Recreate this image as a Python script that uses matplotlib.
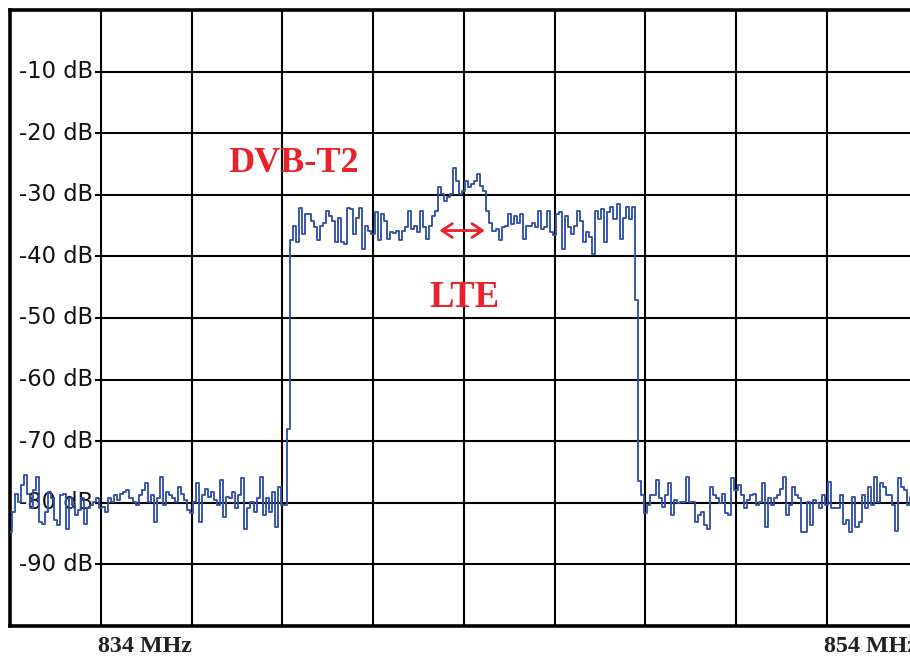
import numpy as np
import matplotlib
matplotlib.use("Agg")
import matplotlib.pyplot as plt

# ---- data ----
f_start, f_stop = 831.5, 856.5          # MHz (10 divisions of 2.5 MHz)
floor_left = [
    -84.7, -81.5, -78.5, -79.8, -77.1, -75.5, -78.5, -80.9, -77.9, -75.8,
    -83.1, -83.4, -81.5, -78.2, -79.3, -82.8, -83.6, -78.7, -78.5, -84.2,
    -79.3, -80.4, -82.0, -81.2, -79.3, -83.4, -80.9, -80.4, -79.8, -79.3,
    -80.9, -80.7, -81.5, -79.3, -79.8, -78.7, -79.6, -78.5, -78.2, -77.9,
    -79.3, -79.8, -80.4, -78.7, -77.9, -76.8, -79.8, -78.7, -83.1, -79.3,
    -75.8, -80.4, -78.2, -78.7, -79.3, -79.8, -77.4, -78.5, -79.6, -81.2,
    -81.7, -79.8, -76.8, -83.1, -78.7, -77.7, -79.0, -78.2, -79.6, -80.4,
    -76.3, -82.3, -79.0, -79.3, -78.2, -80.9, -78.7, -76.0, -84.2, -80.9,
    -79.8, -81.5, -79.3, -75.8, -82.0, -79.3, -81.5, -78.2, -83.9, -77.4,
    -80.4, -80.4,
]
rise_edge = [-68.0]
band = [
    -37.4, -35.0, -37.7, -32.1, -36.3, -33.1, -33.1, -34.2, -35.3, -37.4,
    -35.0, -34.5, -32.6, -33.4, -34.2, -37.7, -33.7, -37.7, -38.0, -32.1,
    -32.3, -36.3, -33.7, -32.1, -38.8, -35.0, -35.8, -36.3, -32.8, -37.4,
    -33.1, -34.2, -37.2, -36.1, -36.2, -35.8, -37.4, -35.8, -35.3, -32.6,
    -35.5, -35.0, -36.1, -32.6, -35.3, -37.2, -35.0, -33.4, -32.6, -28.8,
    -29.9, -31.0, -30.4, -29.9, -25.6, -27.7, -29.9, -29.4, -27.7, -28.8,
    -28.3, -27.7, -26.7, -28.5, -29.4, -32.6, -34.5, -35.8, -35.5, -37.4,
    -35.3, -35.0, -33.1, -34.7, -33.4, -34.5, -33.1, -37.2, -35.0, -35.0,
    -34.5, -35.3, -32.6, -35.5, -35.3, -32.6, -36.1, -36.6, -33.1, -32.8,
    -38.8, -33.4, -35.3, -36.3, -35.0, -32.6, -34.2, -37.7, -36.1, -36.9,
    -39.6, -32.6, -33.9, -32.3, -37.7, -32.8, -32.0, -33.9, -31.5, -37.2,
    -33.7, -32.0, -33.9, -32.0,
]
fall_edge = [-47.0, -76.5]
floor_right = [
    -78.7, -81.7, -80.4, -78.7, -78.7, -76.3, -79.3, -80.7, -78.7, -76.8,
    -82.0, -79.6, -80.1, -79.8, -79.8, -75.8, -79.8, -79.8, -83.1, -82.0,
    -81.5, -83.6, -84.2, -77.4, -78.7, -79.3, -80.1, -78.5, -81.7, -82.0,
    -76.0, -77.9, -77.1, -78.7, -80.9, -79.6, -78.7, -78.5, -80.4, -79.8,
    -76.8, -83.9, -79.3, -80.4, -79.3, -78.7, -77.7, -75.8, -82.0, -80.4,
    -77.4, -78.7, -79.3, -84.7, -84.7, -79.8, -83.6, -79.6, -80.1, -80.9,
    -78.7, -80.4, -76.6, -80.9, -80.9, -80.9, -78.7, -83.4, -82.8, -84.7,
    -79.0, -83.9, -83.1, -78.7, -80.9, -77.4, -80.4, -75.8, -79.8, -76.8,
    -77.4, -78.7, -78.7, -80.4, -84.5, -76.0, -77.4, -77.9, -80.4, -79.0,
    -81.0, -79.5,
]
level_db = np.array(floor_left + rise_edge + band + fall_edge + floor_right)
freq_mhz = np.linspace(f_start, f_stop, len(level_db))

db_ticks = [-10, -20, -30, -40, -50, -60, -70, -80, -90]
db_labels = ["-10 dB", "-20 dB", "-30 dB", "-40 dB", "-50 dB",
             "-60 dB", "-70 dB", "-80 dB", "-90 dB"]
freq_grid = [834 + 2.5 * k for k in range(10)]
freq_labels = {834: "834 MHz", 854: "854 MHz"}

# ---- figure ----
W, H = 910, 659
fig = plt.figure(figsize=(W / 100, H / 100), dpi=100)
ax_left, ax_top, ax_bot, ax_w = 10, 10, 626, 907.5
ax = fig.add_axes([ax_left / W, (H - ax_bot) / H, ax_w / W, (ax_bot - ax_top) / H])
ax.set_xlim(f_start, f_stop)
ax.set_ylim(-100, 0)
ax.set_xticks([])
ax.set_yticks([])
for side in ["left", "top", "bottom", "right"]:
    ax.spines[side].set_linewidth(2.6)
    ax.spines[side].set_color("black")

# grid
for f in freq_grid:
    ax.axvline(f, color="black", lw=1.5, zorder=1)
grid_x0 = 833.83
for d in db_ticks:
    ax.plot([grid_x0, f_stop], [d, d], color="black", lw=1.5, zorder=1,
            solid_capstyle="butt")

# y labels inside the plot
for d, lab in zip(db_ticks, db_labels):
    ax.text(833.78, d, lab, ha="right", va="center", fontsize=16.3,
            family="DejaVu Sans", color="#111111", zorder=2)

# trace
ax.plot(freq_mhz, level_db, drawstyle="steps-mid", color="#3352a6",
        lw=1.35, zorder=3)

# annotations
ax.text(839.32, -24.9, "DVB-T2", ha="center", va="center", fontsize=26,
        family="Liberation Serif", fontweight="bold", color="#e8212b", zorder=4)
ax.text(844.03, -46.6, "LTE", ha="center", va="center", fontsize=26.5,
        family="Liberation Serif", fontweight="bold", color="#e8212b", zorder=4)
ax.annotate("", xy=(844.58, -35.8), xytext=(843.33, -35.8),
            arrowprops=dict(arrowstyle="<->,head_length=0.75,head_width=0.5",
                            color="#e8212b", lw=2.0, shrinkA=0, shrinkB=0),
            zorder=4)

# x labels under the plot
trans = ax.get_xaxis_transform()
for f, lab in freq_labels.items():
    ax.text(f - 0.08, -0.034, lab, transform=trans, ha="left", va="center",
            fontsize=17.3, family="Liberation Serif", fontweight="bold",
            color="#222222", clip_on=False)

fig.savefig("out.png", dpi=100, facecolor="white")
